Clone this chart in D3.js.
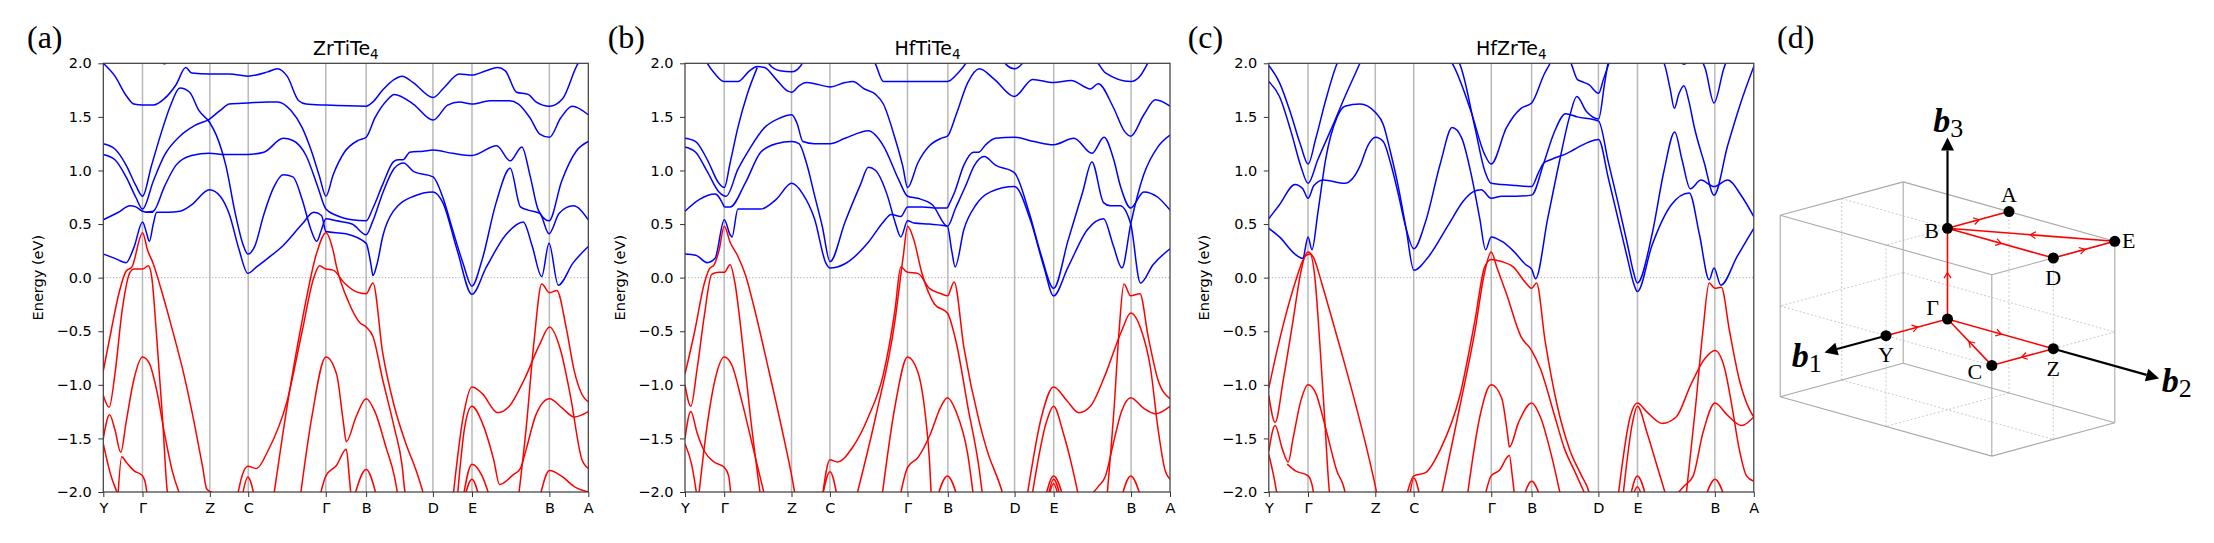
<!DOCTYPE html>
<html>
<head>
<meta charset="utf-8">
<script src="https://cdn.jsdelivr.net/npm/d3@7"></script>
<style>
  body { margin: 0; background: #fff; }
  text { fill: #000; }
</style>
</head>
<body>
<svg id="fig" width="2214" height="543"></svg>
<script>
// ---- axis data ----
const kTicks = [0, 0.0808, 0.2196, 0.2988, 0.4587, 0.5419, 0.6796, 0.7602, 0.9197, 1];
const kLabels = ["Y", "Γ", "Z", "C", "Γ", "B", "D", "E", "B", "A"];
const eTicks = [-2, -1.5, -1, -0.5, 0, 0.5, 1, 1.5, 2];
const panelTitles = [["ZrTiTe", "4"], ["HfTiTe", "4"], ["HfZrTe", "4"]];
const panelTags = ["(a)", "(b)", "(c)"];

// ---- band data, [k (fraction of path), E (eV)] ----
// (a) ZrTiTe4
const zrTiTeCond = [
  [[0,2.00],[.024,1.88],[.047,1.70],[.063,1.62],[.081,1.61],[.103,1.61],[.126,1.67],[.150,1.80],[.170,1.96],[.182,1.91],[.219,1.90],[.260,1.90],[.298,1.88],[.339,1.92],[.359,1.95],[.379,1.88],[.403,1.65],[.418,1.62],[.459,1.61],[.542,1.60],[.556,1.64],[.576,1.75],[.600,1.85],[.616,1.88],[.639,1.82],[.680,1.68],[.702,1.77],[.734,1.90],[.760,1.89],[.789,1.93],[.813,1.96],[.829,1.93],[.852,1.73],[.876,1.71],[.892,1.64],[.920,1.60],[.947,1.67],[.979,2.00],[.99,2.06]],
  [[.112,2.06],[.126,1.995],[.140,2.06]],
  [[0,1.25],[.024,1.20],[.047,1.05],[.067,0.86],[.081,0.76],[.099,1.04],[.118,1.33],[.138,1.60],[.158,1.77],[.178,1.73],[.197,1.56],[.219,1.45],[.233,1.33],[.253,1.04],[.272,0.60],[.288,0.31],[.298,0.22],[.312,0.29],[.331,0.59],[.351,0.84],[.371,0.96],[.391,0.94],[.410,0.73],[.428,0.45],[.440,0.34],[.450,0.45],[.459,0.55],[.481,0.53],[.513,0.50],[.542,0.40],[.555,0.52],[.577,0.80],[.600,1.02],[.619,1.07],[.640,0.99],[.680,0.94],[.700,0.75],[.720,0.45],[.742,0.13],[.760,-0.08],[.780,0.15],[.810,0.70],[.839,1.02],[.860,0.66],[.876,0.63],[.900,0.60],[.919,0.41],[.940,0.60],[.969,0.67],[1,0.54]],
  [[0,1.15],[.024,1.10],[.047,0.94],[.067,0.75],[.081,0.64],[.103,0.90],[.126,1.14],[.158,1.32],[.189,1.42],[.219,1.48],[.241,1.56],[.260,1.62],[.298,1.63],[.339,1.64],[.359,1.64],[.387,1.56],[.410,1.40],[.430,1.17],[.446,0.94],[.459,0.76],[.474,0.96],[.497,1.17],[.525,1.28],[.542,1.31],[.560,1.49],[.584,1.65],[.600,1.71],[.639,1.62],[.680,1.47],[.710,1.61],[.734,1.64],[.760,1.62],[.797,1.65],[.837,1.65],[.856,1.62],[.880,1.49],[.900,1.34],[.920,1.31],[.943,1.49],[.967,1.60],[1,1.52]],
  [[.087,0.61],[.103,0.62],[.126,0.85],[.150,1.05],[.182,1.14],[.219,1.16],[.245,1.15],[.298,1.15],[.331,1.17],[.371,1.30],[.391,1.28],[.418,1.14],[.442,0.85],[.459,0.64],[.481,0.58],[.513,0.54],[.542,0.53],[.556,0.65],[.577,0.88],[.598,1.08],[.608,1.10],[.618,1.10],[.632,1.17],[.660,1.18],[.680,1.19],[.720,1.16],[.760,1.14],[.811,1.23],[.839,1.09],[.863,1.22],[.880,0.95],[.897,0.63],[.919,0.53],[.945,0.90],[.975,1.18],[1,1.27]],
  [[0,0.22],[.024,0.18],[.047,0.14],[.063,0.28],[.081,0.52],[.089,0.42],[.095,0.34],[.103,0.50],[.110,0.61],[.134,0.61],[.158,0.62],[.182,0.68],[.219,0.82],[.241,0.76],[.260,0.59],[.280,0.26],[.298,0.04],[.316,0.10],[.339,0.18],[.371,0.30],[.410,0.50],[.434,0.61],[.450,0.58],[.459,0.43],[.500,0.41],[.542,0.32],[.552,0.12],[.556,0.02],[.564,0.12],[.577,0.40],[.598,0.62],[.640,0.76],[.680,0.80],[.700,0.70],[.730,0.25],[.760,-0.155],[.790,0.10],[.830,0.40],[.866,0.52],[.884,0.30],[.904,0.01],[.919,0.32],[.938,-0.07],[.969,0.14],[1,0.29]],
  [[0,0.54],[.031,0.61],[.055,0.67],[.067,0.66],[.081,0.62],[.090,0.61],[.103,0.61]]
];
const zrTiTeVal = [
  [[0,-0.87],[.016,-0.50],[.032,-0.15],[.047,0.06],[.059,0.10],[.081,0.42],[.091,0.26],[.103,0.13],[.118,-0.09],[.142,-0.48],[.166,-0.90],[.189,-1.39],[.205,-1.77],[.213,-1.97],[.222,-2.00],[.235,-2.03]],
  [[0,-1.10],[.012,-1.21],[.024,-0.90],[.039,-0.30],[.055,0.05],[.063,0.08],[.081,0.08],[.093,0.11],[.100,0.00],[.110,-0.55],[.122,-1.30],[.132,-2.00],[.136,-2.10]],
  [[0,-1.50],[.013,-1.28],[.024,-1.42],[.036,-1.63],[.047,-1.35],[.063,-0.95],[.081,-0.74],[.095,-0.80],[.110,-1.05],[.126,-1.45],[.142,-1.80],[.160,-2.05]],
  [[0,-1.55],[.016,-1.85],[.028,-2.00],[.032,-2.05]],
  [[.030,-2.05],[.038,-1.67],[.047,-1.72],[.063,-1.80],[.081,-1.85],[.087,-1.92],[.091,-2.05]],
  [[.276,-2.05],[.286,-1.85],[.298,-1.76],[.316,-1.78],[.339,-1.62],[.379,-1.15],[.410,-0.50],[.434,0.00],[.446,0.11],[.459,0.08],[.474,0.07],[.497,-0.05],[.521,-0.13],[.542,-0.15],[.556,-0.05],[.576,-0.70],[.600,-1.20],[.624,-1.55],[.645,-1.80],[.659,-2.00],[.665,-2.10]],
  [[.351,-2.05],[.379,-1.20],[.410,-0.40],[.440,0.23],[.459,0.42],[.474,0.25],[.481,0.10],[.505,-0.22],[.529,-0.42],[.542,-0.46],[.556,-0.55],[.576,-0.95],[.600,-1.40],[.616,-1.75],[.622,-2.00],[.630,-2.10]],
  [[.406,-2.05],[.430,-1.30],[.459,-0.74],[.481,-0.90],[.495,-1.35],[.501,-1.53],[.521,-1.30],[.542,-1.13],[.560,-1.25],[.584,-1.60],[.600,-1.85],[.608,-2.05]],
  [[.446,-2.05],[.459,-1.85],[.481,-1.75],[.501,-1.60],[.507,-1.85],[.511,-2.05]],
  [[.517,-2.05],[.542,-1.79],[.564,-2.05]],
  [[.286,-2.05],[.298,-1.86],[.312,-2.05]],
  [[.721,-2.05],[.742,-1.30],[.760,-1.02],[.781,-1.08],[.813,-1.26],[.837,-1.20],[.868,-0.95],[.900,-0.62],[.920,-0.46],[.943,-0.68],[.963,-1.10],[.987,-1.70],[1,-1.78]],
  [[.856,-2.05],[.872,-1.40],[.888,-0.60],[.904,-0.06],[.920,-0.14],[.935,-0.12],[.955,-0.48],[.971,-0.87],[.987,-1.09],[1,-1.16]],
  [[.730,-2.05],[.745,-1.40],[.760,-1.20],[.781,-1.35],[.805,-1.70],[.817,-1.93],[.845,-1.84],[.860,-1.78],[.872,-1.60],[.892,-1.28],[.920,-1.13],[.947,-1.22],[.971,-1.30],[1,-1.25]],
  [[.742,-2.05],[.760,-1.74],[.781,-1.85],[.797,-2.05]],
  [[.745,-2.05],[.760,-1.88],[.775,-2.05]],
  [[.900,-2.05],[.920,-1.80],[.947,-1.86],[.971,-1.95],[1,-2.00]]
];

// (b) HfTiTe4
const hfTiTeCond = [
  [[.040,2.05],[.046,2.00],[.062,1.90],[.081,1.83],[.109,1.83],[.133,1.93],[.149,1.97],[.164,1.96],[.188,1.85],[.212,1.74],[.220,1.73],[.235,1.79],[.251,1.82],[.267,1.81],[.299,1.78],[.330,1.82],[.346,1.83],[.370,1.76],[.393,1.71],[.409,1.62],[.433,1.30],[.449,1.04],[.459,0.84],[.480,1.07],[.504,1.23],[.528,1.30],[.541,1.32],[.559,1.52],[.583,1.82],[.607,1.95],[.638,1.85],[.679,1.69],[.717,1.85],[.760,1.82],[.796,1.84],[.836,1.76],[.852,1.81],[.883,1.59],[.907,1.36],[.919,1.32],[.946,1.52],[.970,1.66],[1,1.60]],
  [[.165,2.05],[.172,2.00],[.196,1.93],[.220,1.92],[.239,1.98],[.247,2.05]],
  [[.385,2.05],[.392,2.00],[.409,1.83],[.459,1.83],[.541,1.83],[.563,1.91],[.579,2.00],[.585,2.05]],
  [[.655,2.03],[.662,1.99],[.679,1.95],[.694,1.99],[.700,2.03]],
  [[.845,2.05],[.852,2.00],[.867,1.91],[.919,1.83],[.938,1.88],[.954,2.00],[.960,2.05]],
  [[0,1.30],[.022,1.27],[.046,1.10],[.070,0.88],[.081,0.84],[.093,1.07],[.109,1.40],[.129,1.72],[.149,1.96]],
  [[0,1.22],[.022,1.17],[.046,0.99],[.070,0.80],[.085,0.76],[.109,1.01],[.133,1.20],[.164,1.40],[.196,1.49],[.220,1.52],[.231,1.44],[.243,1.27],[.267,1.25],[.299,1.25],[.330,1.30],[.378,1.37],[.409,1.23],[.441,0.91],[.459,0.76],[.480,0.74],[.510,0.68],[.541,0.48],[.558,0.65],[.578,0.85],[.597,1.05],[.617,1.13],[.640,1.05],[.679,0.98],[.710,0.60],[.735,0.20],[.760,-0.10],[.790,0.35],[.820,0.80],[.839,1.08],[.863,0.70],[.877,0.67],[.897,0.67],[.919,0.50],[.939,-0.05],[.965,0.12],[1,0.27]],
  [[.081,0.66],[.093,0.66],[.125,0.89],[.156,1.17],[.188,1.25],[.220,1.27],[.235,1.25],[.251,1.06],[.267,0.77],[.283,0.48],[.299,0.15],[.330,0.52],[.362,0.87],[.378,1.03],[.393,1.00],[.417,0.77],[.433,0.52],[.445,0.38],[.459,0.53],[.472,0.51],[.504,0.50],[.541,0.48],[.550,0.25],[.557,0.10],[.575,0.45],[.600,0.68],[.630,0.80],[.679,0.85],[.712,0.54],[.740,0.10],[.760,-0.17],[.790,0.10],[.830,0.45],[.863,0.55],[.883,0.30],[.901,0.09],[.919,0.50],[.945,0.95],[.975,1.22],[1,1.33]],
  [[0,0.22],[.022,0.21],[.046,0.14],[.062,0.18],[.081,0.54],[.093,0.40],[.097,0.38],[.109,0.64],[.156,0.64],[.188,0.73],[.220,0.88],[.243,0.78],[.267,0.55],[.291,0.13],[.299,0.09],[.330,0.13],[.378,0.33],[.409,0.52],[.425,0.59],[.445,0.57],[.459,0.66],[.490,0.66],[.520,0.65],[.541,0.65]],
  [[0,0.62],[.030,0.73],[.062,0.78],[.081,0.66]],
  [[.541,0.65],[.556,0.80],[.575,1.05],[.595,1.17],[.605,1.17],[.620,1.24],[.640,1.30],[.679,1.31],[.720,1.27],[.760,1.24],[.802,1.30],[.839,1.16],[.864,1.31],[.884,1.10],[.898,0.85],[.919,0.65],[.946,0.80],[.975,0.75],[1,0.63]]
];
const hfTiTeVal = [
  [[0,-0.90],[.020,-0.50],[.040,-0.05],[.050,0.08],[.060,0.12],[.070,0.25],[.081,0.48],[.093,0.33],[.109,0.20],[.125,0.02],[.141,-0.25],[.172,-0.85],[.204,-1.50],[.220,-1.85],[.228,-2.05]],
  [[0,-1.00],[.012,-1.20],[.025,-0.85],[.040,-0.35],[.055,0.03],[.070,0.05],[.081,0.05],[.093,0.12],[.103,-0.05],[.117,-0.55],[.135,-1.30],[.156,-2.05]],
  [[0,-1.50],[.012,-1.25],[.025,-1.45],[.040,-1.62],[.060,-1.72],[.081,-1.77],[.090,-1.85],[.095,-2.05]],
  [[.028,-2.05],[.045,-1.40],[.062,-0.95],[.081,-0.74],[.097,-0.82],[.117,-1.15],[.141,-1.60],[.165,-2.05]],
  [[0,-1.55],[.014,-1.75],[.025,-2.05]],
  [[.283,-2.05],[.299,-1.81],[.314,-2.05]],
  [[.283,-2.05],[.299,-1.70],[.314,-1.72],[.346,-1.58],[.378,-1.30],[.409,-0.90],[.433,-0.30],[.445,0.10],[.459,0.05],[.480,0.04],[.504,-0.10],[.528,-0.15],[.541,-0.17],[.555,-0.04],[.575,-0.65],[.607,-1.35],[.622,-1.60],[.654,-2.00],[.660,-2.10]],
  [[.353,-2.05],[.393,-1.30],[.433,-0.40],[.450,0.20],[.459,0.48],[.472,0.35],[.488,0.05],[.515,-0.25],[.541,-0.33],[.559,-0.60],[.583,-1.20],[.607,-1.80],[.614,-2.05]],
  [[.406,-2.05],[.433,-1.20],[.459,-0.74],[.480,-0.88],[.496,-1.30],[.504,-1.70],[.508,-2.05]],
  [[.443,-2.05],[.459,-1.77],[.480,-1.68],[.504,-1.48],[.528,-1.20],[.541,-1.12],[.559,-1.25],[.583,-1.65],[.595,-2.05]],
  [[.520,-2.05],[.541,-1.85],[.562,-2.05]],
  [[.705,-2.05],[.735,-1.30],[.760,-1.02],[.788,-1.15],[.812,-1.26],[.836,-1.20],[.867,-0.90],[.900,-0.50],[.919,-0.33],[.940,-0.48],[.960,-0.85],[.975,-1.40],[.990,-1.80],[1,-1.88]],
  [[.870,-2.05],[.885,-1.20],[.895,-0.50],[.905,-0.06],[.919,-0.17],[.938,-0.15],[.955,-0.55],[.975,-0.95],[1,-1.13]],
  [[.715,-2.05],[.745,-1.35],[.760,-1.20],[.780,-1.45],[.800,-1.80],[.812,-2.05]],
  [[.832,-2.05],[.852,-1.95],[.867,-1.85],[.883,-1.55],[.900,-1.25],[.919,-1.12],[.946,-1.22],[.970,-1.27],[1,-1.20]],
  [[.743,-2.05],[.760,-1.85],[.780,-2.05]],
  [[.748,-2.05],[.760,-1.88],[.774,-2.05]],
  [[.750,-2.05],[.760,-1.92],[.770,-2.05]],
  [[.900,-2.05],[.919,-1.85],[.940,-2.05]]
];

// (c) HfZrTe4
const hfZrTeCond = [
  [[0,1.98],[.022,1.82],[.046,1.52],[.066,1.23],[.081,1.06],[.097,1.30],[.117,1.65],[.141,2.00],[.146,2.05]],
  [[0,1.83],[.022,1.69],[.046,1.36],[.066,1.04],[.081,0.88],[.101,1.10],[.130,1.40],[.160,1.72],[.188,2.00],[.193,2.05]],
  [[0,0.55],[.022,0.68],[.054,0.87],[.070,0.83],[.081,0.74],[.093,0.86],[.113,0.91],[.157,0.88],[.188,1.04],[.204,1.23],[.220,1.31],[.236,1.27],[.251,1.07],[.267,0.78],[.283,0.46],[.299,0.27],[.323,0.52],[.354,1.07],[.378,1.40],[.398,1.30],[.417,0.97],[.435,0.55],[.447,0.26],[.4585,0.38],[.480,0.34],[.504,0.25],[.530,0.12],[.542,0.08],[.550,-0.01],[.575,0.55],[.600,1.10],[.620,1.50],[.635,1.69],[.655,1.55],[.680,1.48],[.692,1.80],[.701,2.05]],
  [[0,0.46],[.022,0.38],[.054,0.22],[.070,0.18],[.081,0.38],[.089,0.26],[.101,0.60],[.117,1.10],[.141,1.50],[.157,1.60],[.188,1.62],[.204,1.60],[.220,1.54],[.236,1.43],[.251,1.17],[.267,0.85],[.283,0.46],[.299,0.07],[.330,0.20],[.370,0.49],[.402,0.72],[.421,0.80],[.438,0.82],[.4585,0.74],[.480,0.76],[.510,0.76],[.542,0.77],[.567,1.07],[.588,1.35],[.612,1.53],[.636,1.50],[.680,1.46],[.700,1.08],[.720,0.70],[.740,0.30],[.752,0.05],[.760,-0.05],[.790,0.40],[.815,1.00],[.837,1.36],[.852,1.10],[.869,0.83],[.891,0.91],[.918,0.85],[.946,0.91],[.975,0.76],[1,0.57]],
  [[.370,2.05],[.378,2.00],[.417,1.55],[.445,1.15],[.4585,1.06],[.490,1.40],[.520,1.58],[.542,1.63],[.568,1.90],[.580,2.00],[.585,2.05]],
  [[.385,2.05],[.393,2.00],[.425,1.40],[.445,1.00],[.4585,0.88],[.480,0.87],[.510,0.86],[.542,0.85],[.556,0.98],[.567,1.07],[.581,1.10],[.615,1.16],[.657,1.26],[.680,1.29],[.700,0.93],[.720,0.55],[.740,0.17],[.752,-0.05],[.760,-0.13],[.790,0.30],[.830,0.68],[.867,0.79],[.888,0.40],[.908,-0.02],[.918,0.09],[.932,-0.07],[.966,0.20],[1,0.46]],
  [[.615,2.05],[.623,2.00],[.636,1.85],[.645,1.83],[.660,1.80],[.680,1.72],[.690,1.85],[.705,2.05]],
  [[.805,2.05],[.815,2.00],[.828,1.75],[.836,1.58],[.846,1.72],[.856,1.79],[.866,1.65],[.877,1.41],[.898,1.07],[.918,0.77],[.946,1.23],[.973,1.63],[1,1.97]],
  [[.890,2.05],[.900,1.95],[.918,1.63],[.938,1.95],[.946,2.05]],
  [[.846,2.03],[.856,1.99],[.866,2.03]]
];
const hfZrTeVal = [
  [[0,-1.03],[.016,-0.70],[.035,-0.35],[.054,-0.05],[.070,0.16],[.081,0.24],[.093,0.18],[.109,-0.05],[.125,-0.30],[.150,-0.70],[.180,-1.20],[.210,-1.75],[.222,-2.00],[.226,-2.10]],
  [[0,-1.10],[.013,-1.35],[.030,-0.95],[.050,-0.40],[.066,0.05],[.075,0.20],[.085,0.22],[.095,0.00],[.105,-0.60],[.115,-1.30],[.125,-2.00],[.128,-2.10]],
  [[0,-1.62],[.013,-1.38],[.028,-1.60],[.040,-1.72],[.050,-1.50],[.066,-1.15],[.081,-1.00],[.097,-1.08],[.117,-1.40],[.140,-1.80],[.157,-2.00],[.160,-2.10]],
  [[.038,-1.74],[.054,-1.80],[.081,-1.85],[.090,-1.95],[.095,-2.10]],
  [[0,-1.65],[.010,-1.85],[.018,-2.05]],
  [[.283,-2.05],[.299,-1.85],[.323,-1.82],[.354,-1.60],[.394,-1.10],[.425,-0.40],[.445,0.10],[.4585,0.17],[.480,0.15],[.504,0.10],[.530,-0.05],[.542,-0.10],[.552,-0.05],[.570,-0.60],[.595,-1.20],[.620,-1.60],[.645,-1.85],[.660,-2.00],[.665,-2.10]],
  [[.355,-2.05],[.394,-1.20],[.425,-0.50],[.445,0.05],[.4585,0.24],[.470,0.10],[.490,-0.15],[.520,-0.55],[.542,-0.68],[.560,-0.85],[.590,-1.30],[.610,-1.60],[.630,-1.80],[.655,-2.05]],
  [[.409,-2.05],[.435,-1.30],[.4585,-1.00],[.480,-1.12],[.492,-1.45],[.496,-1.58],[.515,-1.35],[.542,-1.17],[.560,-1.30],[.585,-1.70],[.600,-2.00],[.605,-2.10]],
  [[.445,-2.05],[.4585,-1.85],[.475,-1.80],[.496,-1.66],[.502,-1.85],[.507,-2.05]],
  [[.525,-2.05],[.542,-1.90],[.560,-2.05]],
  [[.290,-2.05],[.299,-1.87],[.312,-2.05]],
  [[.720,-2.05],[.745,-1.30],[.760,-1.17],[.779,-1.25],[.811,-1.36],[.840,-1.30],[.870,-1.00],[.900,-0.75],[.920,-0.68],[.940,-0.85],[.955,-1.20],[.970,-1.60],[.985,-1.85],[1,-1.90]],
  [[.860,-2.05],[.880,-1.20],[.895,-0.50],[.908,-0.05],[.920,-0.10],[.933,-0.09],[.950,-0.50],[.970,-0.95],[.990,-1.22],[1,-1.30]],
  [[.730,-2.05],[.750,-1.35],[.760,-1.20],[.780,-1.45],[.800,-1.75],[.820,-2.05]],
  [[.836,-2.05],[.855,-1.95],[.875,-1.85],[.895,-1.45],[.920,-1.17],[.945,-1.28],[.975,-1.38],[1,-1.30]],
  [[.745,-2.05],[.760,-1.85],[.778,-2.05]],
  [[.750,-2.05],[.760,-1.95],[.770,-2.05]],
  [[.900,-2.05],[.920,-1.88],[.940,-2.05]]
];

// (d) Brillouin zone, reduced coordinates along b1, b2, b3
const bzPoints = {"Γ":[0,0,0], "Y":[0.5,0,0], "Z":[0,0.5,0], "C":[0.5,0.5,0],
                  "B":[0,0,0.5], "D":[0,0.5,0.5], "E":[-0.5,0.5,0.5], "A":[-0.5,0,0.5]};
const bzPath = ["Y", "Γ", "Z", "C", "Γ", "B", "D", "E", "B", "A"];
const bzAxes = [{sub: "1", from: "Y", to: [1,0,0]}, {sub: "2", from: "Z", to: [0,1,0]}, {sub: "3", from: "B", to: [0,0,1]}];

// ---- layout ----
const svg = d3.select("#fig");
const panelLeft = [103.3, 685, 1268.8];
const pTop = 63.3, pW = 485, pH = 428.7;
const allBands = [[zrTiTeCond, zrTiTeVal], [hfTiTeCond, hfTiTeVal], [hfZrTeCond, hfZrTeVal]];
const tagX = [27, 607.7, 1187.7];

panelLeft.forEach((x0, i) => {
  const x = d3.scaleLinear().domain([0, 1]).range([0, pW]);
  const y = d3.scaleLinear().domain([-2, 2]).range([pH, 0]);
  const g = svg.append("g").attr("transform", `translate(${x0},${pTop})`);

  g.append("clipPath").attr("id", "clip" + i)
    .append("rect").attr("width", pW).attr("height", pH);

  // high-symmetry lines
  g.selectAll(".hs").data(kTicks.slice(1, -1)).join("line")
    .attr("x1", d => x(d)).attr("x2", d => x(d))
    .attr("y1", 0).attr("y2", pH)
    .attr("stroke", "#b8b8b8").attr("stroke-width", 1.5);

  // Fermi level
  g.append("line").attr("x1", 0).attr("x2", pW).attr("y1", y(0)).attr("y2", y(0))
    .attr("stroke", "#a8a8a8").attr("stroke-width", 1).attr("stroke-dasharray", "1.2,2");

  const line = d3.line().x(d => x(d[0])).y(d => y(d[1])).curve(d3.curveMonotoneX);
  const plot = g.append("g").attr("clip-path", `url(#clip${i})`);
  plot.selectAll(".vb").data(allBands[i][1]).join("path")
    .attr("d", line).attr("fill", "none").attr("stroke", "#ff0000").attr("stroke-width", 1.5);
  plot.selectAll(".cb").data(allBands[i][0]).join("path")
    .attr("d", line).attr("fill", "none").attr("stroke", "#0000ff").attr("stroke-width", 1.5);

  // axes
  const yAxis = g.append("g").call(d3.axisLeft(y).tickValues(eTicks)
    .tickFormat(d3.format(".1f")).tickSize(5).tickPadding(6.5));
  const xAxis = g.append("g").attr("transform", `translate(0,${pH})`)
    .call(d3.axisBottom(x).tickValues(kTicks)
      .tickFormat(d => kLabels[kTicks.indexOf(d)]).tickSize(5).tickPadding(6));
  [yAxis, xAxis].forEach(a => {
    a.select(".domain").remove();
    a.selectAll(".tick line").attr("stroke", "#333").attr("stroke-width", 1);
    a.selectAll("text").attr("font-family", "DejaVu Sans").attr("font-size", 14.5).attr("fill", "#000");
  });

  g.append("rect").attr("width", pW).attr("height", pH)
    .attr("fill", "none").attr("stroke", "#3a3a3a").attr("stroke-width", 1.2);

  // title
  const t = g.append("text").attr("x", pW / 2).attr("y", 54.7 - pTop)
    .attr("text-anchor", "middle").attr("font-family", "DejaVu Sans").attr("font-size", 19);
  t.append("tspan").text(panelTitles[i][0]);
  t.append("tspan").attr("font-size", 13.5).attr("dy", 4).text(panelTitles[i][1]);

  // y label
  g.append("text")
    .attr("transform", `translate(${43 - 103.3},${pH / 2}) rotate(-90)`)
    .attr("text-anchor", "middle").attr("font-family", "DejaVu Sans").attr("font-size", 14.5)
    .text("Energy (eV)");

  svg.append("text").attr("x", tagX[i]).attr("y", 48)
    .attr("font-family", "Liberation Serif").attr("font-size", 32).text(panelTags[i]);
});

// ---- (d) Brillouin zone ----
svg.append("text").attr("x", 1777).attr("y", 48)
  .attr("font-family", "Liberation Serif").attr("font-size", 32).text("(d)");

const bzOrigin = [1947.5, 319];
const bzE = [[-123, 33.4], [211.6, 59.4], [0, -181.4]];
const proj = p => [
  bzOrigin[0] + p[0] * bzE[0][0] + p[1] * bzE[1][0] + p[2] * bzE[2][0],
  bzOrigin[1] + p[0] * bzE[0][1] + p[1] * bzE[1][1] + p[2] * bzE[2][1]
];
const bz = svg.append("g");

// box edges
const corners = [];
[-0.5, 0.5].forEach(u => [-0.5, 0.5].forEach(v => [-0.5, 0.5].forEach(w => corners.push([u, v, w]))));
const edges = [];
corners.forEach((a, i) => corners.forEach((b, j) => {
  if (j > i && a.filter((c, t) => c !== b[t]).length === 1) edges.push([a, b]);
}));
// mid-plane outlines
const midEdges = [];
for (let t = 0; t < 3; t++) {
  const o = [0, 1, 2].filter(s => s !== t);
  for (const a of [0, 1]) for (const s of [-0.5, 0.5]) {
    const p = [0, 0, 0], q = [0, 0, 0];
    p[o[a]] = s; q[o[a]] = s; p[o[1 - a]] = -0.5; q[o[1 - a]] = 0.5;
    midEdges.push([p, q]);
  }
}
const seg = d3.line();
bz.selectAll(".mid").data(midEdges).join("path")
  .attr("d", d => seg(d.map(proj))).attr("fill", "none")
  .attr("stroke", "#c4c4c4").attr("stroke-width", 0.9).attr("stroke-dasharray", "2,2");
bz.selectAll(".edge").data(edges).join("path")
  .attr("d", d => seg(d.map(proj))).attr("fill", "none")
  .attr("stroke", "#a9a9a9").attr("stroke-width", 1.1);

// k-path
const pathPts = bzPath.map(n => proj(bzPoints[n]));
bz.append("path").attr("d", seg(pathPts)).attr("fill", "none")
  .attr("stroke", "#ff0000").attr("stroke-width", 1.6);
d3.pairs(pathPts).forEach(([a, b]) => {
  const m = [(a[0] + b[0]) / 2, (a[1] + b[1]) / 2];
  const ang = Math.atan2(b[1] - a[1], b[0] - a[0]) * 180 / Math.PI;
  bz.append("path").attr("d", "M-4.5,-3.5L1,0L-4.5,3.5")
    .attr("transform", `translate(${m[0]},${m[1]}) rotate(${ang})`)
    .attr("fill", "none").attr("stroke", "#ff0000").attr("stroke-width", 1.2);
});

// reciprocal axes
bzAxes.forEach(ax => {
  const s = proj(bzPoints[ax.from]), e = proj(ax.to);
  const ang = Math.atan2(e[1] - s[1], e[0] - s[0]);
  const hl = 13, hw = 6.5;
  const base = [e[0] - hl * Math.cos(ang), e[1] - hl * Math.sin(ang)];
  bz.append("line").attr("x1", s[0]).attr("y1", s[1]).attr("x2", base[0]).attr("y2", base[1])
    .attr("stroke", "#000").attr("stroke-width", 2.2);
  const nx = -Math.sin(ang), ny = Math.cos(ang);
  bz.append("path").attr("d", `M${e[0]},${e[1]}L${base[0] + hw * nx},${base[1] + hw * ny}L${base[0] - hw * nx},${base[1] - hw * ny}Z`)
    .attr("fill", "#000");
});

// points
bz.selectAll(".pt").data(Object.keys(bzPoints)).join("circle")
  .attr("cx", d => proj(bzPoints[d])[0]).attr("cy", d => proj(bzPoints[d])[1])
  .attr("r", 5.5).attr("fill", "#000");

// point labels (offsets in px from the point)
const labelOffset = {"Γ":[-15,-4], "Y":[0,26], "C":[-17,14], "Z":[0,27], "D":[0,27], "B":[-16,10], "A":[0,-10], "E":[14,7]};
bz.selectAll(".lbl").data(Object.keys(bzPoints)).join("text")
  .attr("x", d => proj(bzPoints[d])[0] + labelOffset[d][0])
  .attr("y", d => proj(bzPoints[d])[1] + labelOffset[d][1])
  .attr("text-anchor", "middle").attr("font-family", "Liberation Serif").attr("font-size", 22)
  .text(d => d);

// axis labels
const axLabelPos = {"1":[1791.7, 366.7], "2":[2161.7, 391.7], "3":[1933.3, 131.7]};
bzAxes.forEach(ax => {
  const p = axLabelPos[ax.sub];
  const t = bz.append("text").attr("x", p[0]).attr("y", p[1]).attr("font-family", "Liberation Serif");
  t.append("tspan").attr("font-size", 34).attr("font-weight", "bold").attr("font-style", "italic").text("b");
  t.append("tspan").attr("font-size", 26).attr("dy", 5).text(ax.sub);
});
</script>
</body>
</html>
